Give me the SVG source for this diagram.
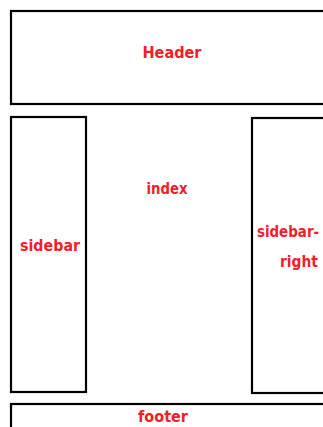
<svg xmlns="http://www.w3.org/2000/svg" width="323" height="427" viewBox="0 0 323 427">
<style>
.box{fill:#fff;stroke:#000;stroke-width:2.2}
.lbl{fill:#f0202a;font-family:"Comic Sans MS","DejaVu Sans",sans-serif;font-weight:bold;font-size:16px;text-anchor:middle}
</style>
<rect width="323" height="427" fill="#fff"/>
<g id="header"><rect class="box" x="11" y="11" width="340" height="93"/><text class="lbl" x="172" y="58" textLength="59" lengthAdjust="spacingAndGlyphs">Header</text></g>
<g id="sidebar"><rect class="box" x="11" y="117" width="75" height="275"/><text class="lbl" x="50" y="251" textLength="60" lengthAdjust="spacingAndGlyphs">sidebar</text></g>
<g id="index"><text class="lbl" x="167" y="194" textLength="41" lengthAdjust="spacingAndGlyphs">index</text></g>
<g id="sidebar-right"><rect class="box" x="252" y="118" width="100" height="275"/><text class="lbl" transform="translate(288,237) scale(0.84,1)">sidebar-</text><text class="lbl" x="299" y="267" textLength="38" lengthAdjust="spacingAndGlyphs">right</text></g>
<g id="footer"><rect class="box" x="11" y="404" width="340" height="40"/><text class="lbl" x="163" y="422" textLength="50" lengthAdjust="spacingAndGlyphs">footer</text></g>
<g id="connectors"/>
</svg>
